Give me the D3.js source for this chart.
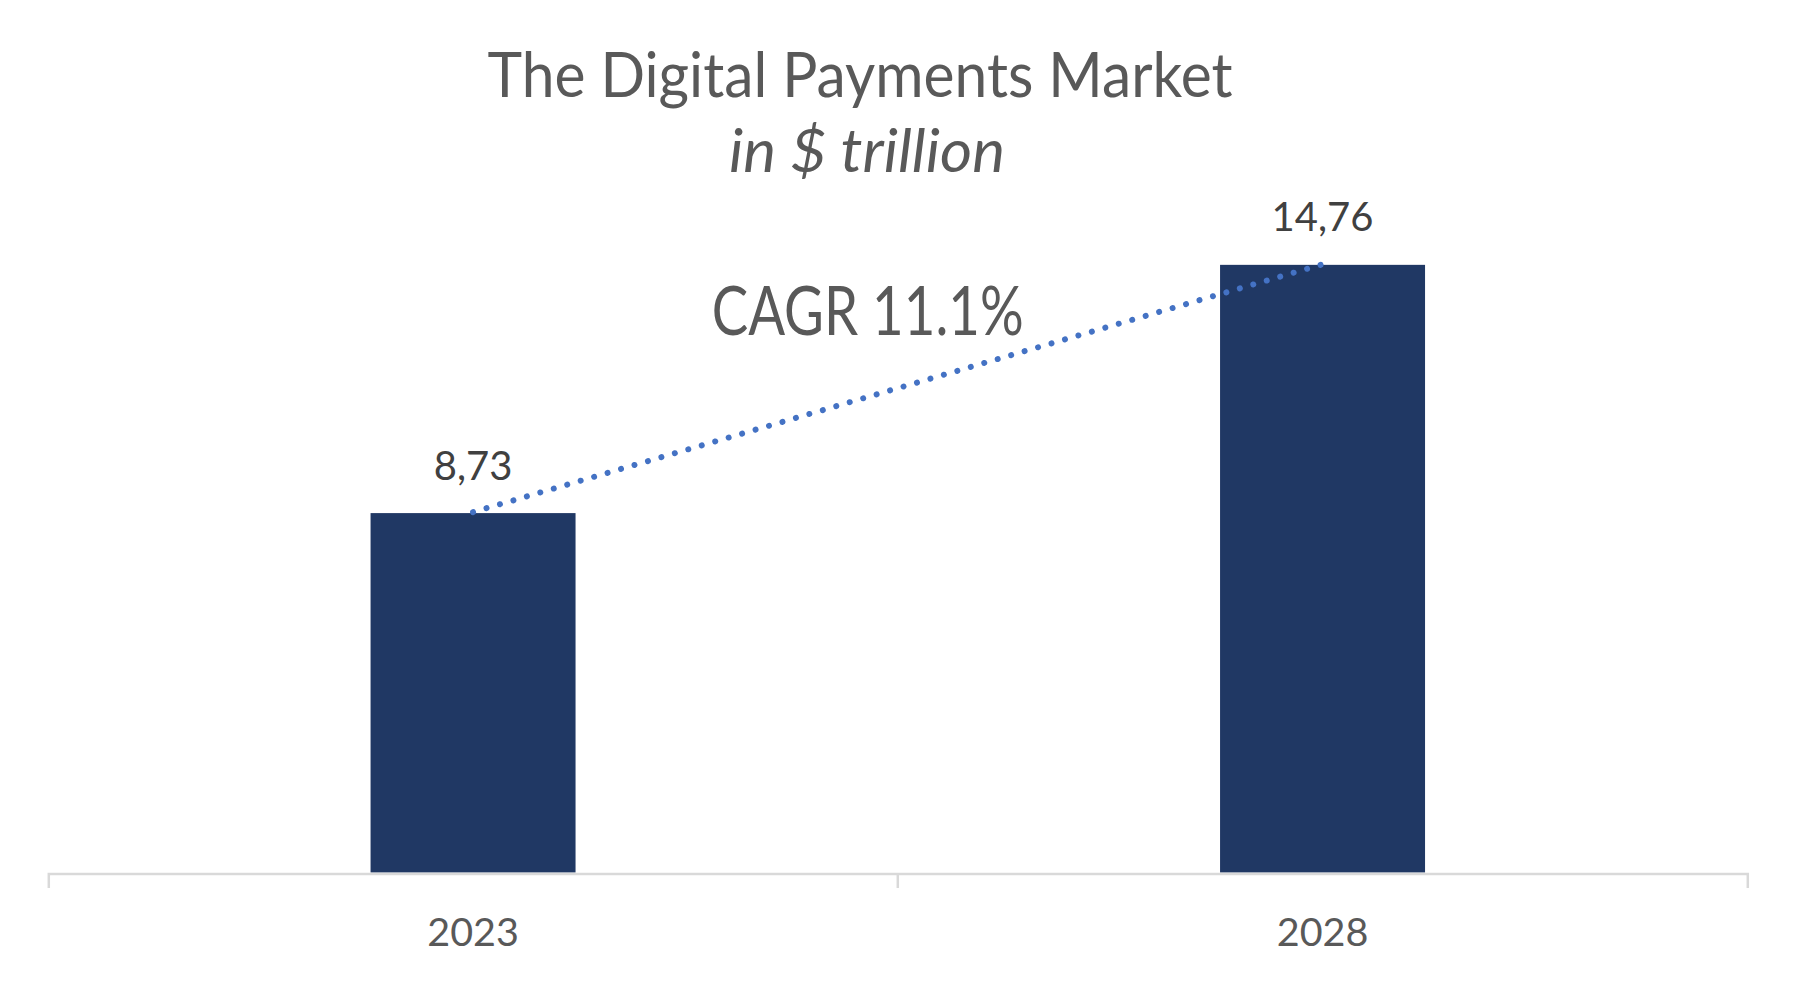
<!DOCTYPE html>
<html>
<head>
<meta charset="utf-8">
<script src="https://cdn.jsdelivr.net/npm/d3@7"></script>
<style>
  html, body { margin: 0; padding: 0; background: #ffffff; }
  svg { display: block; }
  text { font-family: Lato, "Open Sans", "Noto Sans", sans-serif; }
</style>
</head>
<body>
<svg id="chart" width="1805" height="989"></svg>
<script>
// ---- data ----
const categories = ["2023", "2028"];
const values = [8.73, 14.76];
const valueLabels = ["8,73", "14,76"];
const titleText = "The Digital Payments Market";
const subtitleText = "in $ trillion";
const cagrText = "CAGR 11.1%";

// ---- layout ----
const W = 1805, H = 989;
const plot = { left: 48.3, right: 1747.3, top: 213.8, bottom: 872.5 };

const svg = d3.select("#chart");
svg.append("rect").attr("width", W).attr("height", H).attr("fill", "#ffffff");

const x = d3.scaleBand().domain(categories).range([plot.left, plot.right]).padding(0);
const y = d3.scaleLinear().domain([0, 16]).range([plot.bottom, plot.top]);
const barW = x.bandwidth() * 0.2413;
const cx = c => x(c) + x.bandwidth() / 2;

// bars
svg.append("g").selectAll("rect").data(categories).join("rect")
  .attr("x", c => cx(c) - barW / 2)
  .attr("width", barW)
  .attr("y", (c, i) => y(values[i]))
  .attr("height", (c, i) => y(0) - y(values[i]))
  .attr("fill", "#203864");

// axis
const axisG = svg.append("g").attr("transform", `translate(0,${plot.bottom + 1})`)
  .call(d3.axisBottom(x).tickSize(0).tickSizeOuter(14.5));
axisG.select(".domain").attr("stroke", "#d9d9d9").attr("stroke-width", 2.5).attr("fill", "none");
axisG.selectAll(".tick text")
  .attr("dy", null)
  .attr("y", 946 - (plot.bottom + 1))
  .attr("fill", "#595959")
  .style("font-size", "39.5px")
  .style("font-family", "Lato, 'Open Sans', sans-serif");
// inner category separator ticks
axisG.selectAll("line.sep").data(categories.slice(1)).join("line")
  .attr("class", "sep")
  .attr("x1", c => x(c)).attr("x2", c => x(c))
  .attr("y1", 0).attr("y2", 14.5)
  .attr("stroke", "#d9d9d9").attr("stroke-width", 2.5);

// dotted CAGR connector
const x1 = cx(categories[0]), y1 = y(values[0]) - 1;
const x2 = cx(categories[1]) - 2, y2 = y(values[1]);
const len = Math.hypot(x2 - x1, y2 - y1);
const nGaps = Math.round(len / 14);
svg.append("line")
  .attr("x1", x1).attr("y1", y1)
  .attr("x2", x2).attr("y2", y2)
  .attr("stroke", "#4472C4")
  .attr("stroke-width", 6)
  .attr("stroke-linecap", "round")
  .attr("stroke-dasharray", `0.01 ${(len - 0.01 * (nGaps + 1)) / nGaps}`);

// data labels
svg.append("g").selectAll("text").data(categories).join("text")
  .attr("x", c => cx(c))
  .attr("y", (c, i) => y(values[i]) - 33.5)
  .attr("text-anchor", "middle")
  .attr("fill", "#404040")
  .style("font-size", "40px")
  .text((c, i) => valueLabels[i]);

// title
svg.append("text")
  .attr("x", 860).attr("y", 97)
  .attr("text-anchor", "middle")
  .attr("fill", "#595959")
  .style("font-size", "61px")
  .attr("textLength", 745).attr("lengthAdjust", "spacingAndGlyphs")
  .text(titleText);

svg.append("text")
  .attr("x", 867).attr("y", 172)
  .attr("text-anchor", "middle")
  .attr("fill", "#595959")
  .style("font-size", "61px")
  .style("font-style", "italic")
  .attr("textLength", 276).attr("lengthAdjust", "spacingAndGlyphs")
  .text(subtitleText);

// CAGR annotation
svg.append("text")
  .attr("x", 867.7).attr("y", 335)
  .attr("text-anchor", "middle")
  .attr("fill", "#595959")
  .style("font-size", "67px")
  .attr("textLength", 312).attr("lengthAdjust", "spacingAndGlyphs")
  .text(cagrText);
</script>
</body>
</html>
